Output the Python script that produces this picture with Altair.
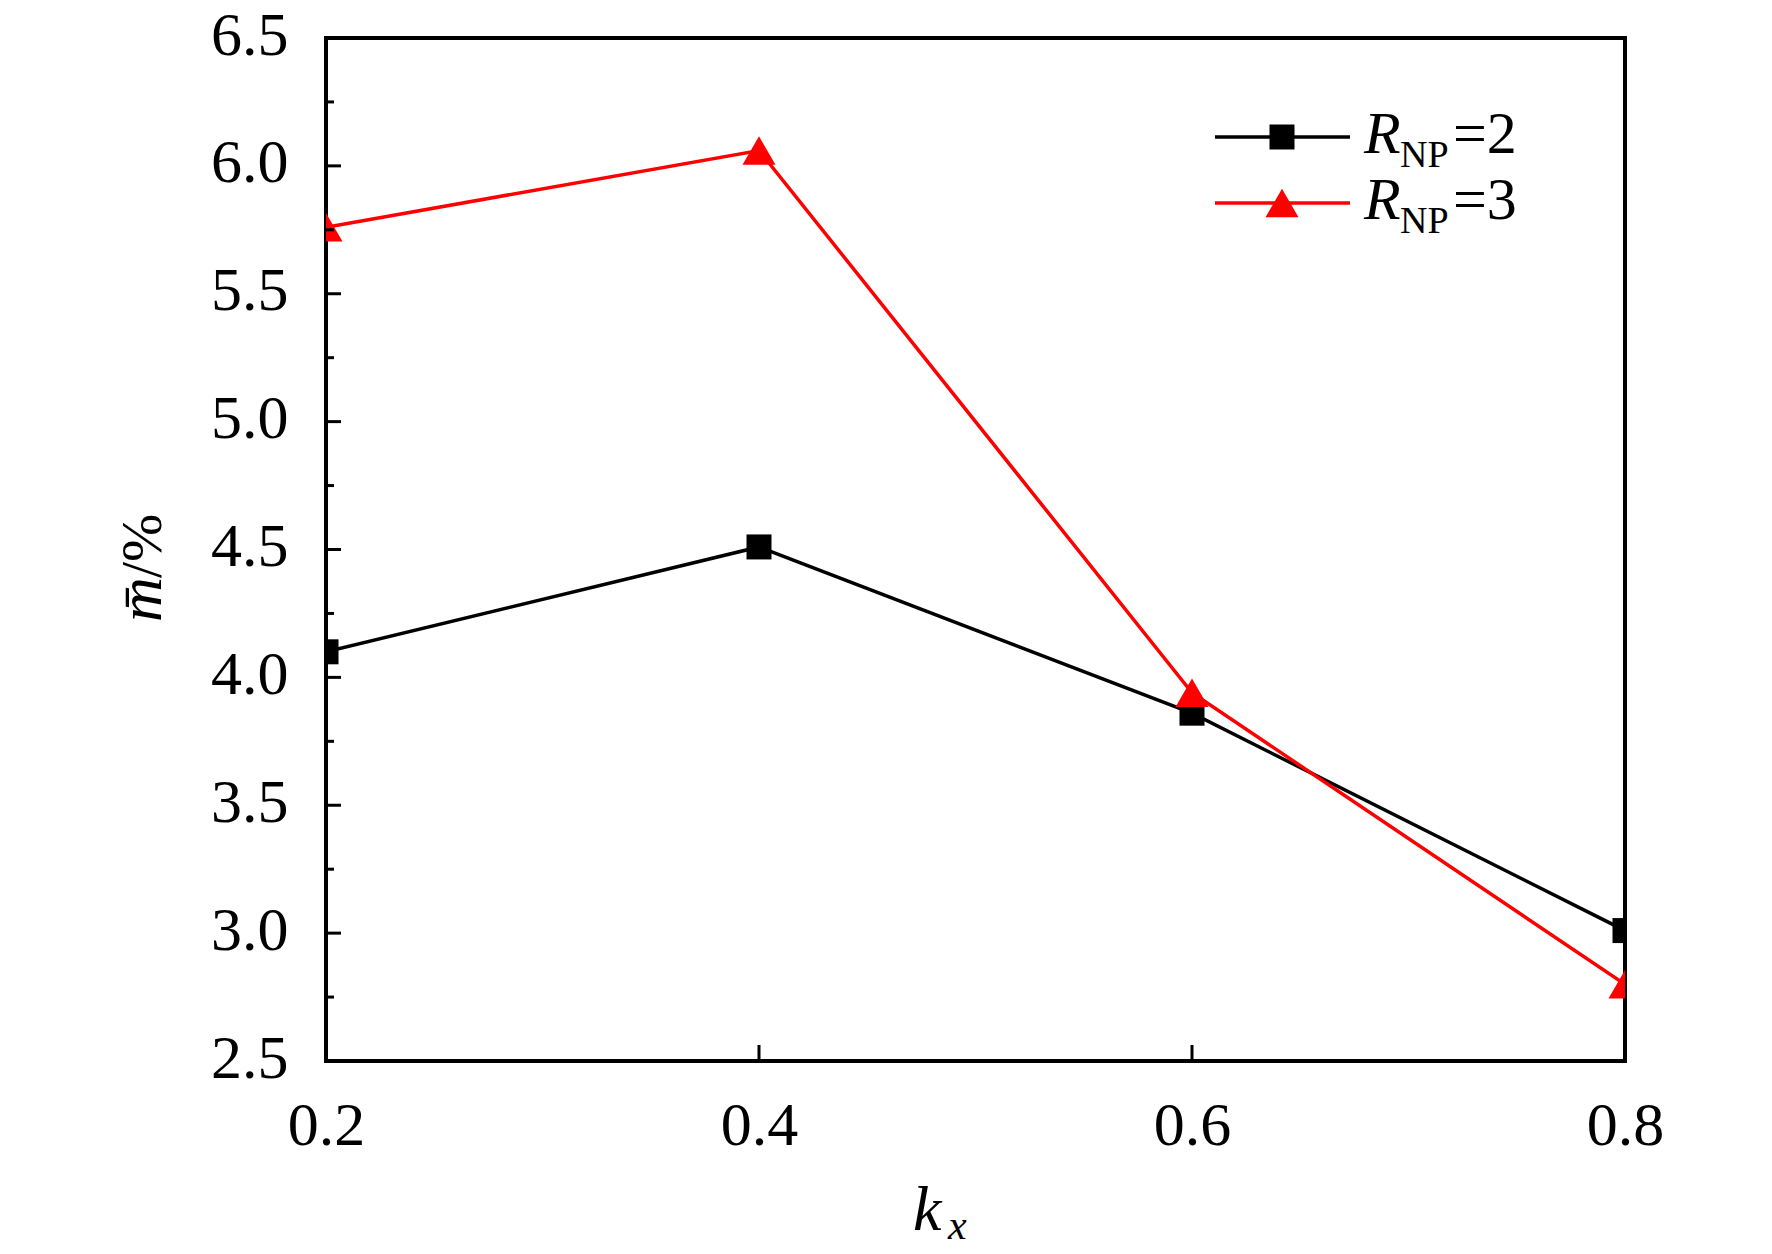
import altair as alt
import pandas as pd

# ---- data ----
kx = [0.2, 0.4, 0.6, 0.8]
m_rnp2 = [4.10, 4.51, 3.86, 3.01]
m_rnp3 = [5.76, 6.06, 3.94, 2.80]
series_names = ["R_NP=2", "R_NP=3"]
series_colors = ["#000000", "#ff0000"]
series_shapes = ["square", "triangle-up"]
series_sizes = [625, 1090]

x_ticks = [0.2, 0.4, 0.6, 0.8]
y_ticks = [2.5, 3.0, 3.5, 4.0, 4.5, 5.0, 5.5, 6.0, 6.5]
y_minor = [2.75, 3.25, 3.75, 4.25, 4.75, 5.25, 5.75, 6.25]
legend_values = ["2", "3"]

FONT = "Liberation Serif"
W, H = 1299, 1023

df = pd.DataFrame({
    "kx": kx + kx,
    "m": m_rnp2 + m_rnp3,
    "series": [series_names[0]] * len(kx) + [series_names[1]] * len(kx),
})

xs = alt.Scale(domain=[0.2, 0.8], nice=False, zero=False)
ys = alt.Scale(domain=[2.5, 6.5], nice=False, zero=False)
cs = alt.Scale(domain=series_names, range=series_colors)
ss = alt.Scale(domain=series_names, range=series_shapes)
zs = alt.Scale(domain=series_names, range=series_sizes)

x_axis = alt.Axis(values=x_ticks, format=".1f", ticks=False, domain=False, grid=False,
                  title=None, labelFont=FONT, labelFontSize=62, labelColor="black",
                  labelPadding=34, labelFlush=False, labelOverlap=False)
y_axis = alt.Axis(values=y_ticks, format=".1f", ticks=False, domain=False, grid=False,
                  title=None, labelFont=FONT, labelFontSize=62, labelColor="black",
                  labelPadding=38, labelOverlap=False, labelOffset=-3)

lines = alt.Chart(df).mark_line(strokeWidth=3.5, clip=True).encode(
    x=alt.X("kx:Q", scale=xs, axis=x_axis),
    y=alt.Y("m:Q", scale=ys, axis=y_axis),
    color=alt.Color("series:N", scale=cs, legend=None),
    detail="series:N",
)

points = alt.Chart(df).mark_point(filled=True, opacity=1, clip=True).encode(
    x=alt.X("kx:Q", scale=xs, axis=x_axis),
    y=alt.Y("m:Q", scale=ys, axis=y_axis),
    color=alt.Color("series:N", scale=cs, legend=None),
    shape=alt.Shape("series:N", scale=ss, legend=None),
    size=alt.Size("series:N", scale=zs, legend=None),
)

# inward ticks
ymaj = alt.Chart(pd.DataFrame({"v": y_ticks})).mark_rule(color="black", strokeWidth=3).encode(
    y=alt.Y("v:Q", scale=ys, axis=y_axis), x=alt.value(0), x2=alt.value(15))
ymin = alt.Chart(pd.DataFrame({"v": y_minor})).mark_rule(color="black", strokeWidth=3).encode(
    y=alt.Y("v:Q", scale=ys, axis=y_axis), x=alt.value(0), x2=alt.value(8))
xmaj = alt.Chart(pd.DataFrame({"v": x_ticks})).mark_rule(color="black", strokeWidth=3).encode(
    x=alt.X("v:Q", scale=xs, axis=x_axis), y=alt.value(H), y2=alt.value(H - 16))

one = pd.DataFrame({"a": [0]})

def txt(s, x, y, size, style="normal", angle=0, color="black"):
    kw = dict(font=FONT, fontSize=size, fontStyle=style, align="left",
              baseline="alphabetic", color=color)
    if angle:
        kw["angle"] = angle
    return alt.Chart(one).mark_text(**kw).encode(
        x=alt.value(x), y=alt.value(y), text=alt.value(s))

# legend
legend_layers = []
rows_y = [99, 165]
for i in range(2):
    yy = rows_y[i]
    legend_layers.append(
        alt.Chart(one).mark_rule(color=series_colors[i], strokeWidth=3.5).encode(
            x=alt.value(889), x2=alt.value(1024), y=alt.value(yy)))
    legend_layers.append(
        alt.Chart(one).mark_point(filled=True, opacity=1, color=series_colors[i],
                                  shape=series_shapes[i], size=series_sizes[i]).encode(
            x=alt.value(956), y=alt.value(yy)))
    base = yy + 16
    legend_layers.append(txt("R", 1038, base, 60, "italic"))
    legend_layers.append(txt("NP", 1074, base + 14, 38))
    legend_layers.append(txt("=" + legend_values[i], 1127, base, 60))

# axis titles
titles = [
    txt("k", 587, 1192, 64, "italic"),
    txt("x", 622, 1201, 42, "italic"),
    txt("m\u0304", -165, 584, 62, "italic", angle=270),
    txt("/%", -165, 540, 58, "normal", angle=270),
]

chart = alt.layer(
    lines, points, ymaj, ymin, xmaj, *legend_layers, *titles
).properties(
    width=W, height=H,
    padding={"left": 318, "top": 30, "right": 120, "bottom": 190},
    autosize=alt.AutoSizeParams(type="none"),
    background="white",
).configure_view(
    stroke="black", strokeWidth=4
)

chart.save("out.html", embed_options={"renderer": "svg", "actions": False})
